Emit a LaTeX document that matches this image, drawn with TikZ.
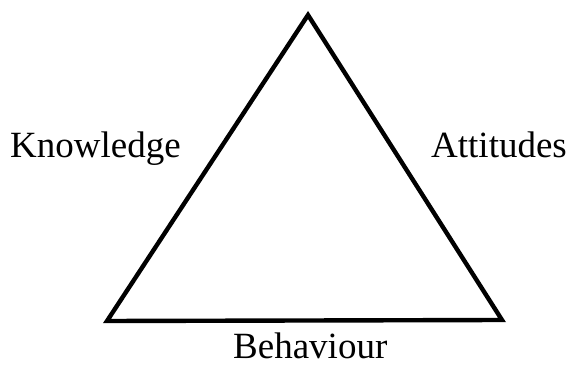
\documentclass[tikz,border=0pt]{standalone}
\usepackage{fontspec}
\setmainfont{Liberation Serif}
\usetikzlibrary{positioning}

\begin{document}
\begin{tikzpicture}[
    x=1pt, y=-1pt,
    side/.style = {line width=4.4pt, line join=miter},
    lbl/.style  = {inner sep=0pt, anchor=base west,
                   font=\fontsize{37}{40}\selectfont},
]

% fixed canvas, same size as the reference
\useasboundingbox (0,0) rectangle (568,374);

% --- corners of the triangle -------------------------------------------
\coordinate (top)   at (308,15);
\coordinate (left)  at (107,321);
\coordinate (right) at (502,320);

\draw[side] (top) -- (left) -- (right) -- cycle;

% --- the three sides ---------------------------------------------------
\node[lbl] (knowledge) at (10,158)  {Knowledge};
\node[lbl] (attitudes) at (431,158) {Attitudes};
\node[lbl] (behaviour) at (233,358) {Behaviour};

\end{tikzpicture}
\end{document}
